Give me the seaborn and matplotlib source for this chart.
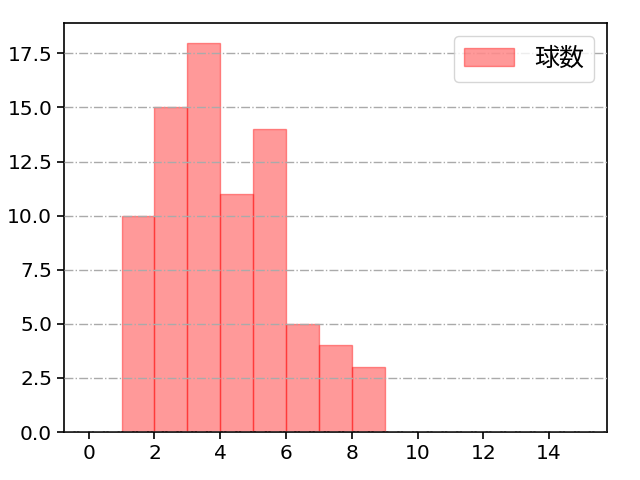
import numpy as np
import matplotlib
matplotlib.use("Agg")
import matplotlib.pyplot as plt
import seaborn as sns

# bin edges (width 1) and counts per bin
bin_edges = [1, 2, 3, 4, 5, 6, 7, 8, 9]
counts = [10, 15, 18, 11, 14, 5, 4, 3]
bin_centers = [e + 0.5 for e in bin_edges[:-1]]
xticks = [0, 2, 4, 6, 8, 10, 12, 14]

sns.set_style("ticks", {"axes.edgecolor": "black", "text.color": "black",
                        "xtick.color": "black", "ytick.color": "black"})
plt.rcParams["font.family"] = ["DejaVu Sans", "Noto Sans CJK JP"]
plt.rcParams["font.size"] = 15

fig, ax = plt.subplots(figsize=(6.4, 4.8), dpi=100)
fig.subplots_adjust(left=0.1, right=0.948, top=0.952, bottom=0.1)

sns.histplot(x=bin_centers, weights=counts, bins=bin_edges, ax=ax,
             color="red", alpha=0.4, edgecolor=(1, 0, 0, 0.4), linewidth=1,
             label="球数")

ax.set_axisbelow(False)
ax.grid(axis="y", color="#aaaaaa", linestyle="-.", linewidth=1)
ax.set_xlim(-0.75, 15.75)
ax.set_xticks(xticks)
ax.set_xlabel("")
ax.set_ylabel("")
for s in ax.spines.values():
    s.set_visible(True)
    s.set_linewidth(1.2)
ax.tick_params(labelsize=14.5, length=5, width=1.2, colors="black")
ax.legend(loc="upper right",
          prop={"family": ["Noto Sans CJK JP"], "size": 18})

fig.savefig("out.png", dpi=100)
